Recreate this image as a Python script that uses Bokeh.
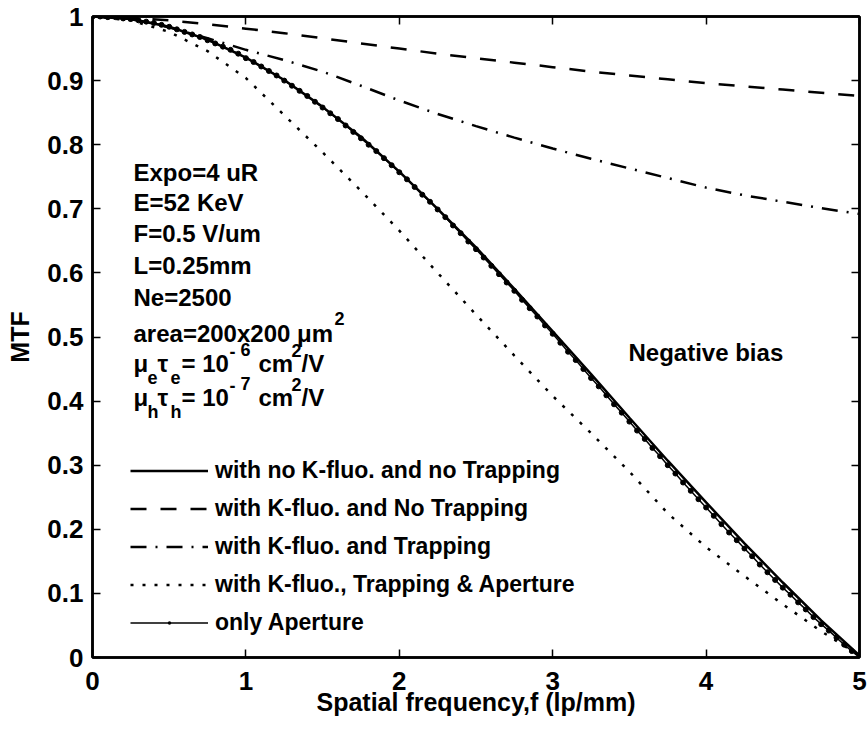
from bokeh.plotting import figure
from bokeh.models import Range1d, LinearAxis, FixedTicker, Legend, LegendItem, Label
from bokeh.embed import file_html
from bokeh.resources import INLINE

# Spatial frequency grid for the four model curves (lp/mm)
freq = [0.0, 0.25, 0.5, 0.75, 1.0, 1.25, 1.5, 1.75, 2.0, 2.25, 2.5,
        2.75, 3.0, 3.25, 3.5, 3.75, 4.0, 4.25, 4.5, 4.75, 5.0]

mtf_no_kfluo_no_trap = [1.0, 0.996, 0.984, 0.964, 0.936, 0.901, 0.859, 0.812, 0.758, 0.700, 0.640,
                        0.575, 0.509, 0.442, 0.374, 0.307, 0.242, 0.178, 0.117, 0.058, 0.003]
mtf_kfluo_no_trap = [1.0, 0.998, 0.994, 0.988, 0.981, 0.974, 0.966, 0.958, 0.950, 0.942, 0.935,
                     0.928, 0.921, 0.914, 0.908, 0.902, 0.896, 0.891, 0.886, 0.881, 0.876]
mtf_kfluo_trap = [1.0, 0.996, 0.983, 0.966, 0.948, 0.932, 0.914, 0.892, 0.869, 0.848, 0.829,
                  0.811, 0.794, 0.778, 0.763, 0.748, 0.733, 0.721, 0.711, 0.701, 0.692]
mtf_kfluo_trap_aperture = [1.0, 0.994, 0.976, 0.946, 0.904, 0.846, 0.788, 0.728, 0.666, 0.600, 0.535,
                           0.471, 0.408, 0.350, 0.290, 0.225, 0.172, 0.127, 0.083, 0.041, 0.003]

# Pixel-aperture-only response, sampled finely (lp/mm)
freq_fine = [0.0, 0.05, 0.1, 0.15, 0.2, 0.25, 0.3, 0.35, 0.4, 0.45,
             0.5, 0.55, 0.6, 0.65, 0.7, 0.75, 0.8, 0.85, 0.9, 0.95,
             1.0, 1.05, 1.1, 1.15, 1.2, 1.25, 1.3, 1.35, 1.4, 1.45,
             1.5, 1.55, 1.6, 1.65, 1.7, 1.75, 1.8, 1.85, 1.9, 1.95,
             2.0, 2.05, 2.1, 2.15, 2.2, 2.25, 2.3, 2.35, 2.4, 2.45,
             2.5, 2.55, 2.6, 2.65, 2.7, 2.75, 2.8, 2.85, 2.9, 2.95,
             3.0, 3.05, 3.1, 3.15, 3.2, 3.25, 3.3, 3.35, 3.4, 3.45,
             3.5, 3.55, 3.6, 3.65, 3.7, 3.75, 3.8, 3.85, 3.9, 3.95,
             4.0, 4.05, 4.1, 4.15, 4.2, 4.25, 4.3, 4.35, 4.4, 4.45,
             4.5, 4.55, 4.6, 4.65, 4.7, 4.75, 4.8, 4.85, 4.9, 4.95, 5.0]
mtf_aperture = [1.000, 1.000, 0.999, 0.999, 0.997, 0.996, 0.994, 0.992, 0.990, 0.987,
                0.984, 0.980, 0.976, 0.972, 0.968, 0.963, 0.958, 0.953, 0.948, 0.942,
                0.935, 0.929, 0.922, 0.915, 0.908, 0.900, 0.892, 0.884, 0.876, 0.867,
                0.858, 0.849, 0.840, 0.830, 0.820, 0.810, 0.800, 0.790, 0.779, 0.768,
                0.757, 0.746, 0.734, 0.722, 0.711, 0.699, 0.687, 0.674, 0.662, 0.649,
                0.637, 0.624, 0.611, 0.598, 0.585, 0.572, 0.558, 0.545, 0.532, 0.518,
                0.505, 0.491, 0.477, 0.464, 0.450, 0.436, 0.423, 0.409, 0.395, 0.382,
                0.368, 0.354, 0.341, 0.327, 0.314, 0.300, 0.287, 0.273, 0.260, 0.247,
                0.234, 0.221, 0.208, 0.195, 0.183, 0.170, 0.158, 0.145, 0.133, 0.121,
                0.109, 0.098, 0.086, 0.075, 0.063, 0.052, 0.042, 0.031, 0.020, 0.010, 0.000]

x_ticks = [0, 1, 2, 3, 4, 5]
y_ticks = [0, 0.1, 0.2, 0.3, 0.4, 0.5, 0.6, 0.7, 0.8, 0.9, 1]
y_tick_labels = ["0", "0.1", "0.2", "0.3", "0.4", "0.5", "0.6", "0.7", "0.8", "0.9", "1"]

legend_labels = [
    "with no K-fluo. and no Trapping",
    "with K-fluo. and No Trapping",
    "with K-fluo. and Trapping",
    "with K-fluo., Trapping & Aperture",
    "only Aperture",
]

FONT = "Liberation Sans"

p = figure(width=868, height=733, x_range=Range1d(0, 5), y_range=Range1d(0, 1),
           output_backend="svg", toolbar_location=None,
           min_border_left=92, min_border_right=9, min_border_top=16, min_border_bottom=76)
p.background_fill_color = "white"
p.border_fill_color = "white"
p.xgrid.visible = False
p.ygrid.visible = False
p.outline_line_color = "black"
p.outline_line_width = 2.5


def style_axis(ax, ticks, labels=None, show_labels=True, standoff=8):
    ax.ticker = FixedTicker(ticks=ticks)
    ax.axis_line_color = "black"
    ax.axis_line_width = 2.5
    ax.major_tick_in = 8
    ax.major_tick_out = 0
    ax.major_tick_line_width = 1.5
    ax.major_tick_line_color = "black"
    ax.minor_tick_line_color = None
    ax.major_label_text_font = FONT
    ax.major_label_text_font_style = "bold"
    ax.major_label_standoff = standoff
    if labels is not None:
        ax.major_label_overrides = {t: s for t, s in zip(ticks, labels)}
    if show_labels:
        ax.major_label_text_font_size = "26px"
        ax.major_label_text_color = "black"
    else:
        # tick marks only on the mirrored box sides
        ax.major_label_text_font_size = "1px"
        ax.major_label_text_color = None
        ax.major_label_standoff = 0


style_axis(p.xaxis[0], x_ticks, [str(t) for t in x_ticks], standoff=14)
style_axis(p.yaxis[0], y_ticks, y_tick_labels, standoff=9)
p.xaxis.axis_label = "Spatial frequency,f (lp/mm)"
p.yaxis.axis_label = "MTF"
for ax in (p.xaxis[0], p.yaxis[0]):
    ax.axis_label_text_font = FONT
    ax.axis_label_text_font_style = "bold"
    ax.axis_label_text_font_size = "25px"
    ax.axis_label_text_color = "black"
p.xaxis.axis_label_standoff = -5
p.yaxis.axis_label_standoff = 10

top_axis = LinearAxis()
style_axis(top_axis, x_ticks, show_labels=False)
right_axis = LinearAxis()
style_axis(right_axis, y_ticks, show_labels=False)
p.add_layout(top_axis, "above")
p.add_layout(right_axis, "right")

# Curves
r_ap_line = p.line(freq_fine, mtf_aperture, line_color="black", line_width=1.5)
r_ap_pts = p.scatter(freq_fine, mtf_aperture, marker="circle", size=5,
                     fill_color="black", line_color="black")
r_solid = p.line(freq, mtf_no_kfluo_no_trap, line_color="black", line_width=2.5)
r_dash = p.line(freq, mtf_kfluo_no_trap, line_color="black", line_width=2.5, line_dash="16 14")
r_dashdot = p.line(freq, mtf_kfluo_trap, line_color="black", line_width=2.5, line_dash="16 9 2 9")
r_dot = p.line(freq, mtf_kfluo_trap_aperture, line_color="black", line_width=2.5, line_dash="3 9")

# small dot marker for the legend swatch of the aperture curve (sits on its first sample)
r_ap_key = p.scatter(x=freq_fine[:1], y=mtf_aperture[:1], marker="dot", size=20,
                     line_color="black", line_width=2)

legend = Legend(items=[
    LegendItem(label=legend_labels[0], renderers=[r_solid]),
    LegendItem(label=legend_labels[1], renderers=[r_dash]),
    LegendItem(label=legend_labels[2], renderers=[r_dashdot]),
    LegendItem(label=legend_labels[3], renderers=[r_dot]),
    LegendItem(label=legend_labels[4], renderers=[r_ap_line, r_ap_key], index=0),
], location=(38, 17))
legend.border_line_color = None
legend.background_fill_alpha = 0
legend.padding = 0
legend.margin = 0
legend.spacing = 3
legend.glyph_width = 78
legend.glyph_height = 35
legend.label_height = 35
legend.label_standoff = 7
legend.label_text_font = FONT
legend.label_text_font_style = "bold"
legend.label_text_font_size = "23px"
legend.label_text_color = "black"
p.add_layout(legend)


# Text annotations placed by pixel offsets inside the frame
def fx(px):
    return (px - 92) / 153.4


def fy(py):
    return (657 - py) / 641


def note(text, px, py, size="24px"):
    p.add_layout(Label(x=fx(px), y=fy(py), text=text, text_font=FONT,
                       text_font_style="bold", text_font_size=size,
                       text_color="black", text_baseline="alphabetic"))


SUB = "18px"
note("Expo=4 uR", 133, 172)
note("E=52 KeV", 133, 202)
note("F=0.5 V/um", 133, 233)
note("L=0.25mm", 133, 265)
note("Ne=2500", 133, 297)
note("area=200x200 \u03bcm", 133, 333)
note("2", 334, 318, SUB)

for sub, base in (("e", 363), ("h", 397)):
    note("\u03bc", 133, base)
    note(sub, 147, base + 14, SUB)
    note("\u03c4", 157, base)
    note(sub, 170, base + 14, SUB)
    note("= 10", 181, base)
    note("-", 229, base - 12, SUB)
    note("6" if sub == "e" else "7", 240, base - 14, SUB)
    note("cm", 258, base)
    note("2", 291, base - 13, SUB)
    note("/V", 301, base)

note("Negative bias", 628, 352)

open("out.html", "w").write(file_html(p, INLINE))
